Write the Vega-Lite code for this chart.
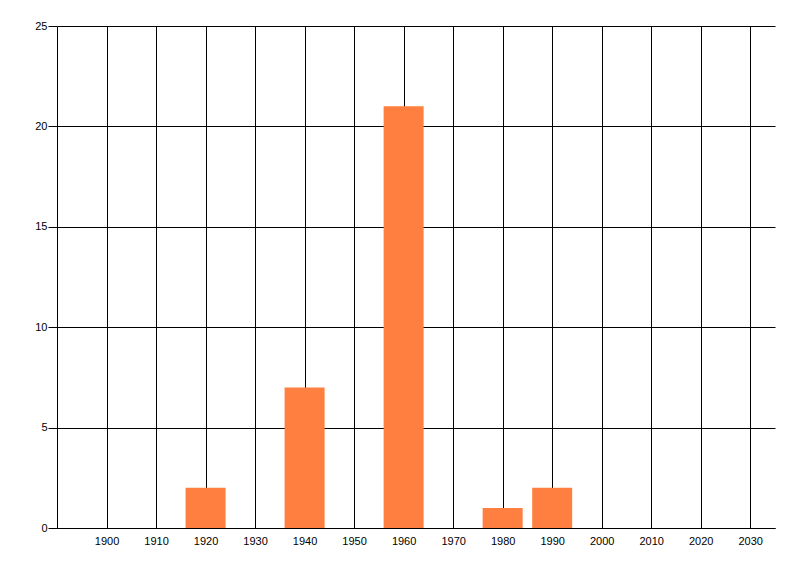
{
  "$schema": "https://vega.github.io/schema/vega-lite/v6.json",
  "width": 718,
  "height": 502,
  "autosize": "none",
  "padding": {"left": 57, "top": 26, "right": 25, "bottom": 48},
  "background": "white",
  "config": {
    "view": {"stroke": null},
    "font": "Liberation Sans",
    "axis": {
      "labelFont": "Liberation Sans",
      "labelFontSize": 11,
      "labelColor": "#000000",
      "domainColor": "#000000",
      "tickColor": "#000000",
      "gridColor": "#000000",
      "gridOpacity": 1,
      "gridWidth": 1,
      "domainWidth": 1,
      "tickWidth": 1,
      "title": null
    }
  },
  "data": {
    "values": [
      {"decade": 1920, "count": 2},
      {"decade": 1940, "count": 7},
      {"decade": 1960, "count": 21},
      {"decade": 1980, "count": 1},
      {"decade": 1990, "count": 2}
    ]
  },
  "mark": {"type": "bar", "color": "#FF7F41", "size": 40},
  "encoding": {
    "x": {
      "field": "decade",
      "type": "quantitative",
      "scale": {"domain": [1890, 2035], "nice": false, "zero": false, "padding": 0},
      "axis": {
        "values": [1900, 1910, 1920, 1930, 1940, 1950, 1960, 1970, 1980, 1990, 2000, 2010, 2020, 2030],
        "format": "d",
        "grid": true,
        "ticks": false,
        "labelPadding": 7,
        "labelFlush": false,
        "labelOverlap": false
      }
    },
    "y": {
      "field": "count",
      "type": "quantitative",
      "scale": {"domain": [0, 25], "nice": false},
      "axis": {
        "values": [0, 5, 10, 15, 20, 25],
        "grid": true,
        "ticks": true,
        "tickSize": 9,
        "labelPadding": 1,
        "labelFlush": false,
        "labelOverlap": false
      }
    }
  }
}
